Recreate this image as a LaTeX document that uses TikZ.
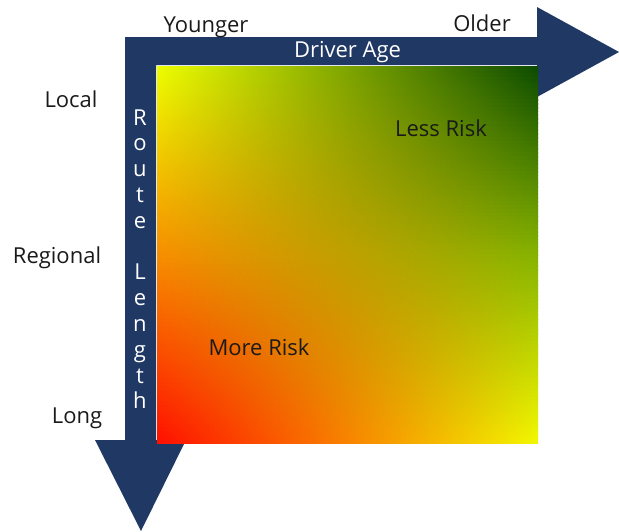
\documentclass[tikz,border=0pt]{standalone}
\usepackage{fontspec}
\setmainfont{Open Sans}
\definecolor{navy}{HTML}{203864}
\definecolor{labelgray}{HTML}{1A1A1A}
% knot colours: L = left edge, M = vertical centre line, R = right edge; t = top, m = middle, b = bottom
\definecolor{Lt}{rgb}{0.93,1.0,0.0}
\definecolor{Lm}{rgb}{0.97,0.56,0.0}
\definecolor{Lb}{rgb}{1.0,0.06,0.0}
\definecolor{Mt}{rgb}{0.62,0.76,0.0}
\definecolor{Mm}{rgb}{0.78,0.60,0.0}
\definecolor{Mb}{rgb}{0.98,0.55,0.0}
\definecolor{Rt}{rgb}{0.04,0.29,0.0}
\definecolor{Rm}{rgb}{0.52,0.70,0.0}
\definecolor{Rb}{rgb}{0.95,0.97,0.0}
\begin{document}
\begin{tikzpicture}[x=1pt,y=-1pt,
  lbl/.style={inner sep=0pt,anchor=base,text=labelgray,font=\fontsize{22}{26}\selectfont},
  wlbl/.style={lbl,text=white}]
\useasboundingbox (0,0) rectangle (619,531);
% arrows
\fill[navy] (125,37) -- (537,37) -- (537,7) -- (619,52) -- (537,97) -- (537,65)
  -- (156,65) -- (156,440) -- (186,440) -- (141,531) -- (95,440) -- (125,440) -- cycle;
% gradient square built from thin horizontal strips
\foreach \i in {0,...,99}{
  \pgfmathsetmacro{\vv}{1-(\i+0.5)/100}
  \pgfmathsetmacro{\ytop}{66+\i*3.77}
  \pgfmathsetmacro{\ybot}{\ytop+(\i<99 ? 4.3 : 3.77)}
  \pgfmathtruncatemacro{\upper}{\vv>=0.5}
  \ifnum\upper=1
    \pgfmathsetmacro{\tt}{200*\vv-100}
    \colorlet{lc}{Lt!\tt!Lm}\colorlet{mc}{Mt!\tt!Mm}\colorlet{rc}{Rt!\tt!Rm}
  \else
    \pgfmathsetmacro{\tt}{200*\vv}
    \colorlet{lc}{Lm!\tt!Lb}\colorlet{mc}{Mm!\tt!Mb}\colorlet{rc}{Rm!\tt!Rb}
  \fi
  \shade[left color=lc,middle color=mc,right color=rc] (157,\ytop) rectangle (538,\ybot);
}
% labels
\node[lbl] (younger) at (206,32) {Younger};
\node[lbl] (older) at (482,31) {Older};
\node[wlbl] (driver) at (347.5,57) {Driver Age};
\node[lbl] (local) at (71,107) {Local};
\node[lbl] (regional) at (57,263) {Regional};
\node[lbl] (long) at (77,423) {Long};
\node[lbl] (less) at (441,136) {Less Risk};
\node[lbl] (more) at (259,355) {More Risk};
% vertical title
\foreach \ch/\k [count=\i] in {R/0,o/1,u/2,t/3,e/4,L/6,e/7,n/8,g/9,t/10,h/11}
  \node[wlbl] (rl\i) at (140,125+25.8*\k) {\ch};
\end{tikzpicture}
\end{document}
